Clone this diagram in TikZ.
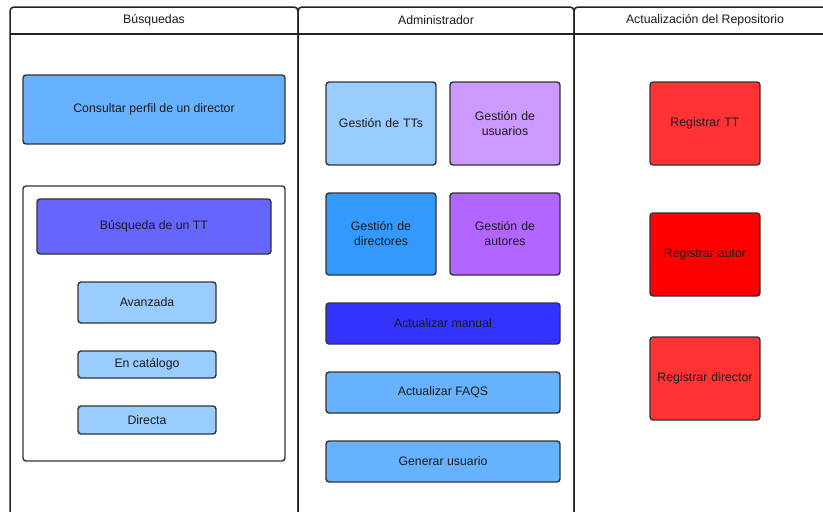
\documentclass[tikz,border=0pt]{standalone}
\usepackage{fontspec}
\setmainfont{Liberation Sans}
\definecolor{lane}{HTML}{222222}
\definecolor{edge}{HTML}{333333}
\definecolor{ink}{HTML}{1A1A1A}
\definecolor{skyA}{HTML}{66B2FF}
\definecolor{skyB}{HTML}{99CCFF}
\definecolor{skyC}{HTML}{3399FF}
\definecolor{violA}{HTML}{6666FF}
\definecolor{violB}{HTML}{3333FF}
\definecolor{lilA}{HTML}{CC99FF}
\definecolor{lilB}{HTML}{B266FF}
\definecolor{redA}{HTML}{FF3333}
\definecolor{redB}{HTML}{FF0000}
\tikzset{
  lanepath/.style={draw=lane, line width=1.5pt, rounded corners=4pt},
  box/.style={draw=edge, line width=1.4pt, rounded corners=3pt, rectangle,
    inner sep=2pt, align=center, text=ink,
    font=\fontsize{12.3}{15}\selectfont},
  wide/.style={box, minimum width=234pt, minimum height=41pt},
  square/.style={box, minimum width=110pt, minimum height=83pt, text width=100pt},
  small/.style={box, minimum width=138pt},
  head/.style={text=ink, font=\fontsize{12.3}{15}\selectfont}
}
\begin{document}
\begin{tikzpicture}[x=1pt, y=-1pt]
\useasboundingbox (0,0) rectangle (823,512);
\clip (0,0) rectangle (823,512);
\fill[white] (0,0) rectangle (823,512);

% swimlanes
\draw[lanepath] (10,530) -- (10,7) -- (298,7) -- (298,530);
\draw[lanepath] (298,530) -- (298,7) -- (574,7) -- (574,530);
\draw[lanepath] (574,530) -- (574,7) -- (840,7) -- (840,530);
\draw[draw=lane, line width=1.5pt] (10,34) -- (823,34);
\node[head] (h1) at (154,20) {Búsquedas};
\node[head] (h2) at (436,20) {Administrador};
\node[head] (h3) at (705,20) {Actualización del Repositorio};

% lane 1: searches
\node[box, fill=skyA, minimum width=262pt, minimum height=69pt] (cons) at (154,109.5) {Consultar perfil de un director};
\node[box, fill=white, minimum width=262pt, minimum height=275pt] (cont) at (154,323.5) {};
\node[box, fill=violA, minimum width=234pt, minimum height=55pt] (btt) at (154,226.5) {Búsqueda de un TT};
\node[small, fill=skyB, minimum height=41pt] (avz) at (147,302.5) {Avanzada};
\node[small, fill=skyB, minimum height=27pt] (cat) at (147,364.5) {En catálogo};
\node[small, fill=skyB, minimum height=28pt] (dir) at (147,420) {Directa};

% lane 2: administration
\node[square, fill=skyB] (gtt) at (381,123.5) {Gestión de TTs};
\node[square, fill=lilA] (gus) at (505,123.5) {Gestión de\\usuarios};
\node[square, fill=skyC, minimum height=82pt] (gdi) at (381,234) {Gestión de\\directores};
\node[square, fill=lilB, minimum height=82pt] (gau) at (505,234) {Gestión de\\autores};
\node[wide, fill=violB] (man) at (443,323.5) {Actualizar manual};
\node[wide, fill=skyA] (faq) at (443,392.5) {Actualizar FAQS};
\node[wide, fill=skyA] (gen) at (443,461.5) {Generar usuario};

% lane 3: repository updates
\node[square, fill=redA] (rtt) at (705,123.5) {Registrar TT};
\node[square, fill=redB] (rau) at (705,254.5) {Registrar autor};
\node[square, fill=redA] (rdi) at (705,378.5) {Registrar director};
\end{tikzpicture}
\end{document}
